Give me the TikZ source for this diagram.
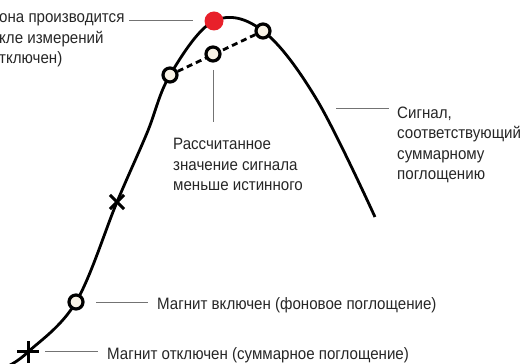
\documentclass[tikz,border=0pt]{standalone}
\usepackage{fontspec}
\setmainfont{Liberation Sans}[FakeStretch=0.915]
\usetikzlibrary{positioning}
\definecolor{dotred}{HTML}{E8202A}
\definecolor{cream}{HTML}{F8F2E6}
\tikzset{
  curve/.style={line width=2.8pt},
  meas/.style={circle,draw,line width=3.2pt,fill=cream,minimum size=14pt,inner sep=0pt},
  peak/.style={circle,fill=dotred,minimum size=19pt,inner sep=0pt},
  crossline/.style={line width=3pt},
  leader/.style={draw=black!55,line width=1pt},
  note/.style={font=\fontsize{16.5}{20.5}\selectfont,text=black!85,align=left,inner sep=0pt},
}

\begin{document}
\begin{tikzpicture}[x=1pt,y=1pt]
\useasboundingbox (0,0) rectangle (523,364);

% Signal curve
\draw [curve] plot [smooth,tension=0.6] coordinates
  {(8,-2) (28,12) (76,62) (117,162) (147,231) (170,289) (214,343) (263,333) (317,264) (375,147)};

% Crosses on the curve
\coordinate (X) at (28,12);
\coordinate (Y) at (117,162);
\draw [crossline,shift={(X)}] (-11,0) -- (11,0) (0,-11) -- (0,11);
\draw [crossline,shift={(Y)},rotate=45] (-10,0) -- (10,0) (0,-10) -- (0,10);

% Measured points
\node [meas] (B) at (76,62) {};
\node [meas] (L) at (170,289) {};
\node [meas] (R) at (263,333) {};
\node [peak] (P) at (214,343) {};
\draw [curve,dashed,dash pattern=on 6pt off 4pt] (L) -- (R);
\node [meas] (M) at (213,310) {};

% Texts (base is the last line)
\node [note,anchor=base west] (T1) at (-1,300)
  {она производится\\кле измерений\\тключен)};
\node [note,anchor=base west] (T2) at (173,173)
  {Рассчитанное\\значение сигнала\\меньше истинного};
\node [note,anchor=base west] (T3) at (397,184)
  {Сигнал,\\соответствующий\\суммарному\\поглощению};
\node [note,anchor=base west] (T4) at (157,54)
  {Магнит включен (фоновое поглощение)};
\node [note,anchor=base west] (T5) at (107,4)
  {Магнит отключен (суммарное поглощение)};

% Leader lines
\coordinate (A1) at (129,343);
\coordinate (A2) at (193,343);
\draw [leader] (A1) -- (A2);
\coordinate (C1) at (213,294);
\coordinate (C2) at (213,242);
\draw [leader] (C1) -- (C2);
\coordinate (D1) at (336,255);
\coordinate (D2) at (389,255);
\draw [leader] (D1) -- (D2);
\coordinate (E1) at (96,61);
\draw [leader] (E1) -- (148,61);
\coordinate (F1) at (45,12);
\draw [leader] (F1) -- (98,12);
\end{tikzpicture}
\end{document}
